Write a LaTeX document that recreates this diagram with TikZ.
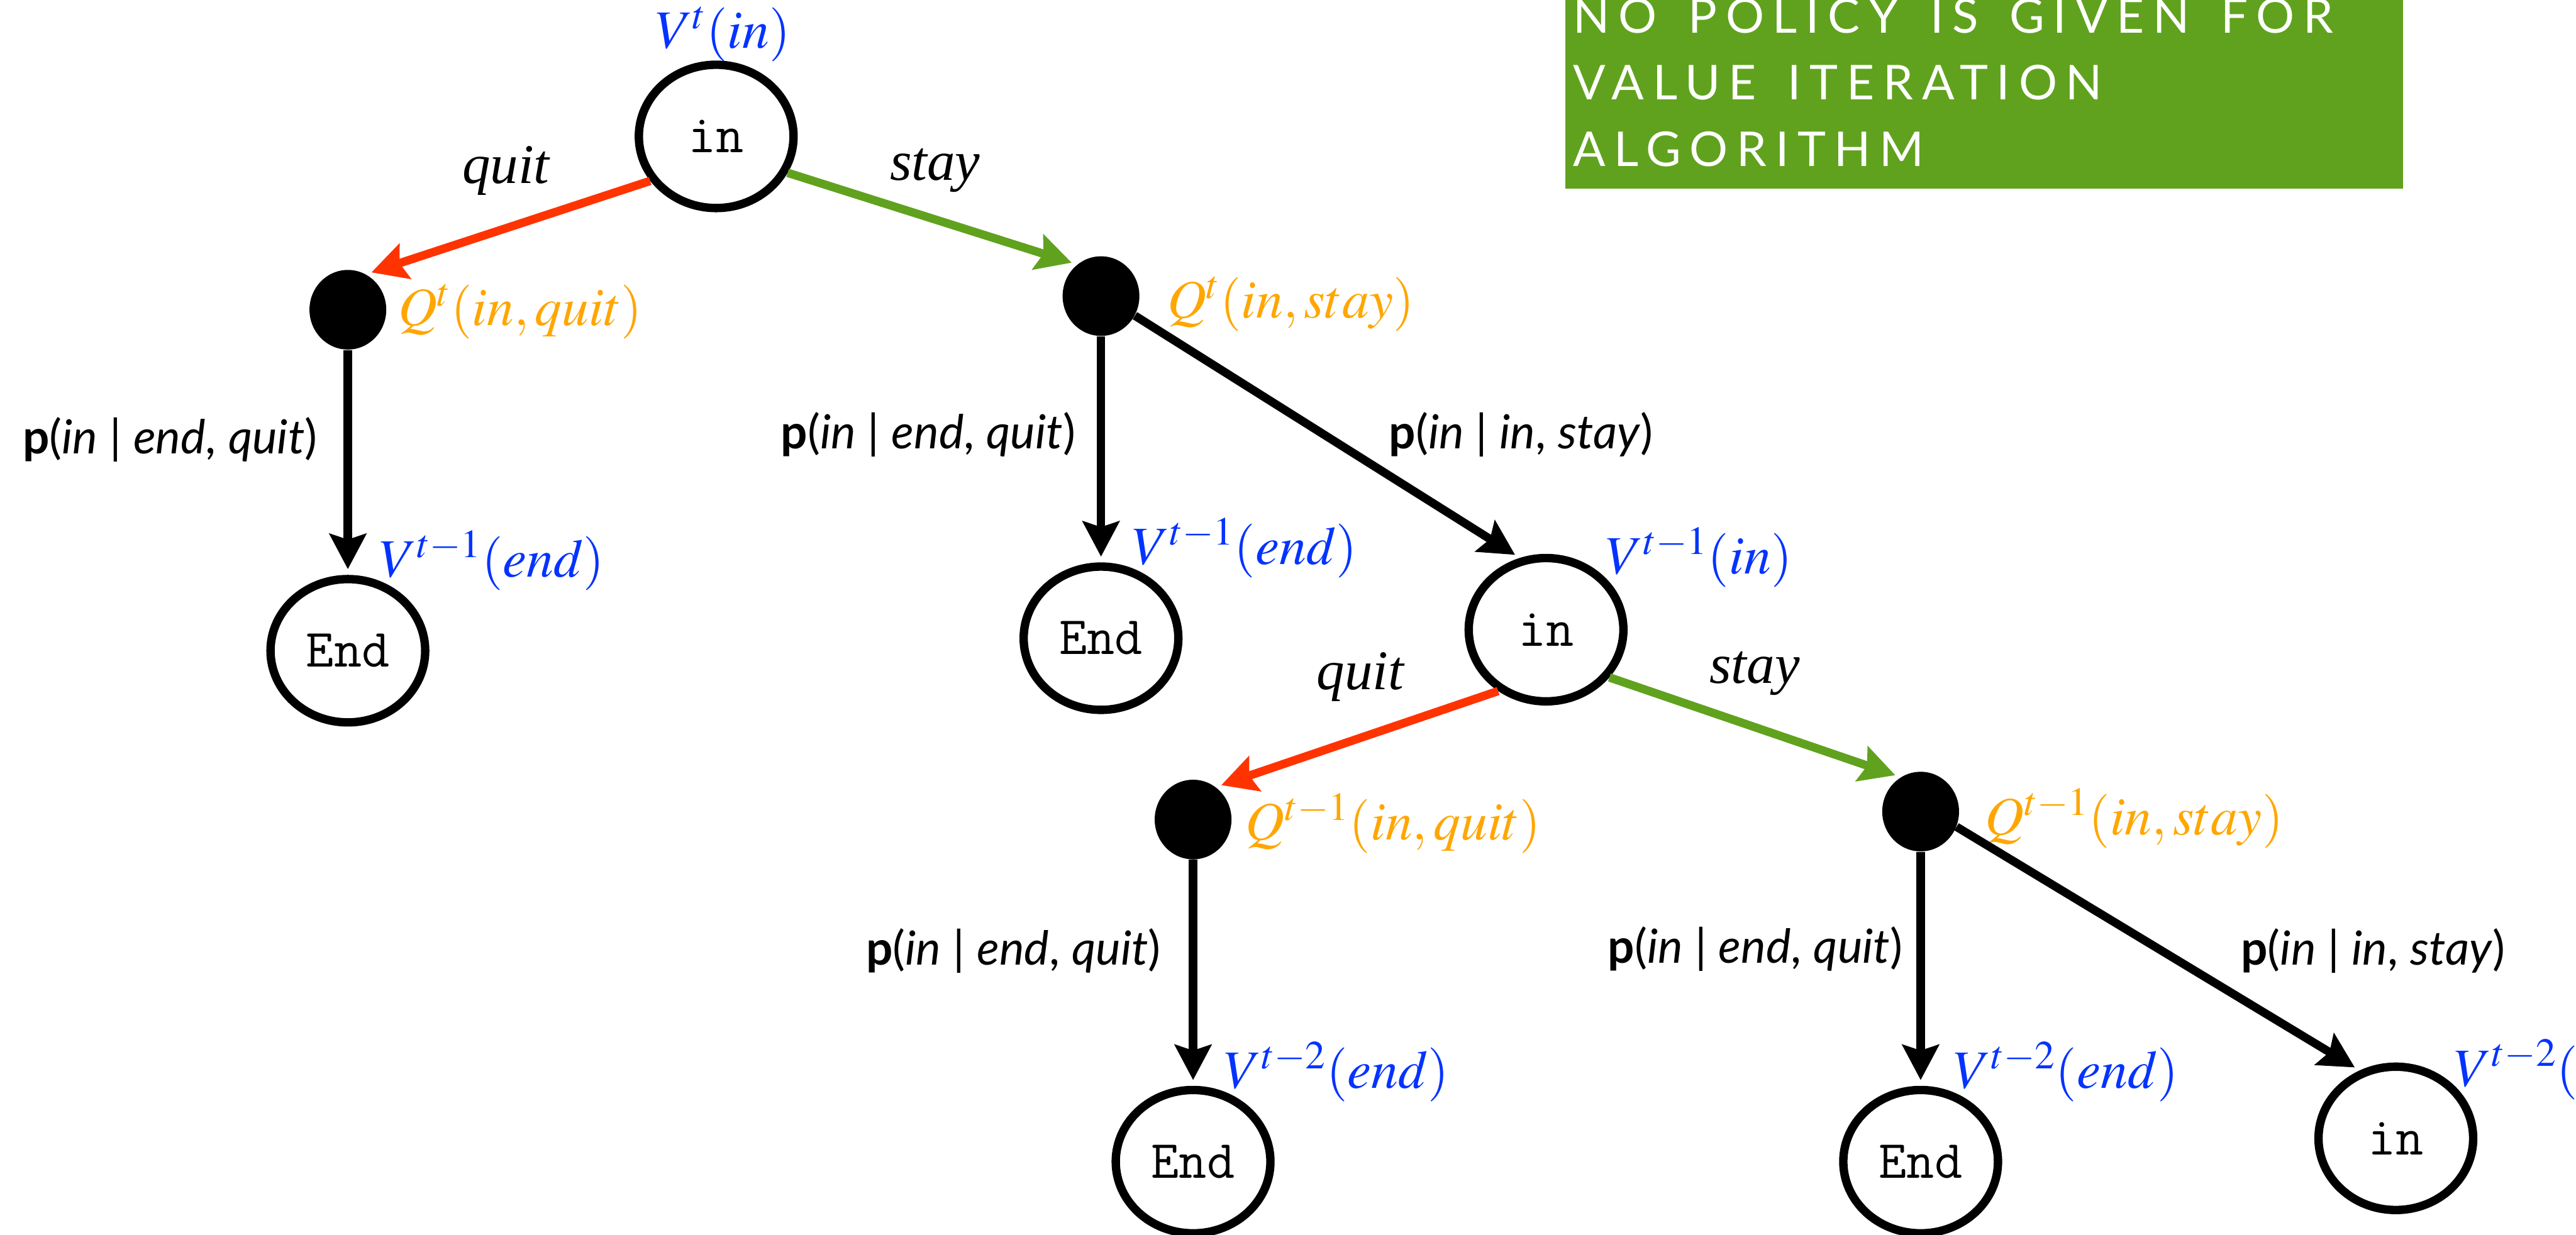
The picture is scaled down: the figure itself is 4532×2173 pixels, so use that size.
\documentclass[tikz,border=0pt]{standalone}
\usepackage{mathptmx}
\usepackage[no-math]{fontspec}
\setmainfont{Liberation Serif}
\newfontfamily\probfont{Lato}
\newfontfamily\notefont[LetterSpace=18, WordSpace=1.5]{Lato}
\usetikzlibrary{positioning, arrows.meta, shapes.geometric}

\definecolor{quitred}{RGB}{255,51,0}
\definecolor{staygreen}{RGB}{96,162,30}
\definecolor{qorange}{RGB}{255,166,0}
\definecolor{vblue}{RGB}{4,51,255}

\begin{document}
\begin{tikzpicture}[
        x=0.01cm, y=-0.01cm,
        state/.style={ellipse, draw, line width=4.2pt, minimum width=2.72cm, minimum height=2.52cm, inner sep=0pt, font=\fontsize{27}{27}\selectfont\ttfamily},
        chance/.style={ellipse, fill=black, minimum width=1.35cm, minimum height=1.40cm, inner sep=0pt},
        vlabel/.style={text=vblue, inner sep=0pt, font=\fontsize{27}{29}\selectfont},
        qlabel/.style={text=qorange, inner sep=0pt, font=\fontsize{27}{29}\selectfont},
        act/.style={inner sep=0pt, font=\fontsize{28}{30}\selectfont\itshape},
        prob/.style={inner sep=0pt, font=\fontsize{23.5}{25}\selectfont\probfont},
        note/.style={text=white, inner sep=0pt, anchor=base west, font=\fontsize{24}{24}\selectfont\notefont},
        line/.style={draw, line width=4.2pt, shorten >=1mm, -{Stealth[length=6.2mm, width=6.4mm, inset=1mm]}},
        quit line/.style={line, draw=quitred},
        stay line/.style={line, draw=staygreen}
    ]
        \useasboundingbox (0,0) rectangle (4532,2173);
        \clip (0,0) rectangle (4532,2173);

        % Note box
        \fill[staygreen] (2754,-20) rectangle (4228,332);
        \node[note] (note1) at (2767,58) {NO POLICY IS GIVEN FOR};
        \node[note] (note2) at (2767,175) {VALUE ITERATION};
        \node[note] (note3) at (2767,293) {ALGORITHM};

        % States and chance nodes
        \node[state] (in0) at (1260,240) {in};
        \node[chance] (qquit) at (612,545) {};
        \node[chance] (qstay) at (1937,521) {};
        \node[state] (end0) at (612,1145) {End};
        \node[state] (end1) at (1937,1123) {End};
        \node[state] (in1) at (2720,1108) {in};
        \node[chance] (qquit1) at (2099,1442) {};
        \node[chance] (qstay1) at (3379,1428) {};
        \node[state] (end2) at (2099,2044) {End};
        \node[state] (end3) at (3379,2044) {End};
        \node[state] (in2) at (4215,2003) {in};

        % Values
        \node[vlabel] (vin0) at (1272,60) {$V^t(in)$};
        \node[vlabel] (vend0) at (866,986) {$V^{t-1}(end)$};
        \node[vlabel] (vend1) at (2190,964) {$V^{t-1}(end)$};
        \node[vlabel, anchor=west] (vin1) at (2825,981) {$V^{t-1}(in)$};
        \node[vlabel] (vend2) at (2352,1886) {$V^{t-2}(end)$};
        \node[vlabel] (vend3) at (3635,1886) {$V^{t-2}(end)$};
        \node[vlabel, anchor=west] (vin2) at (4318,1882) {$V^{t-2}(in)$};

        % Q values
        \node[qlabel, anchor=west] (qquitlab) at (700,548) {$Q^t(in, quit)$};
        \node[qlabel, anchor=west] (qstaylab) at (2053,535) {$Q^t(in, stay)$};
        \node[qlabel, anchor=west] (qquit1lab) at (2191,1449) {$Q^{t-1}(in, quit)$};
        \node[qlabel, anchor=west] (qstay1lab) at (3492,1440) {$Q^{t-1}(in, stay)$};

        % Actions
        \draw[quit line] (in0.214) -- (qquit.63);
        \draw[stay line] (in0.333) -- (qstay.127);
        \node[act] (quit0) at (890,300) {quit};
        \node[act] (stay0) at (1645,300) {stay};
        \draw[quit line] (in1.232) -- (qquit1.55);
        \draw[stay line] (in1.323) -- (qstay1.120);
        \node[act] (quit1) at (2393,1191) {quit};
        \node[act] (stay1) at (3087,1185) {stay};

        % Transitions
        \draw[line] (qquit) -- (end0);
        \draw[line] (qstay) -- (end1);
        \draw[line] (qstay.330) -- (in1.110);
        \draw[line] (qquit1) -- (end2);
        \draw[line] (qstay1) -- (end3);
        \draw[line] (qstay1.337) -- (in2.118);
        \node[prob] (p0) at (299,773) {\textbf{p}(\textit{in} | \textit{end}, \textit{quit})};
        \node[prob] (p1) at (1633,765) {\textbf{p}(\textit{in} | \textit{end}, \textit{quit})};
        \node[prob] (p2) at (2676,765) {\textbf{p}(\textit{in} | \textit{in}, \textit{stay})};
        \node[prob] (p3) at (1783,1673) {\textbf{p}(\textit{in} | \textit{end}, \textit{quit})};
        \node[prob] (p4) at (3088,1670) {\textbf{p}(\textit{in} | \textit{end}, \textit{quit})};
        \node[prob] (p5) at (4175,1673) {\textbf{p}(\textit{in} | \textit{in}, \textit{stay})};
\end{tikzpicture}
\end{document}
